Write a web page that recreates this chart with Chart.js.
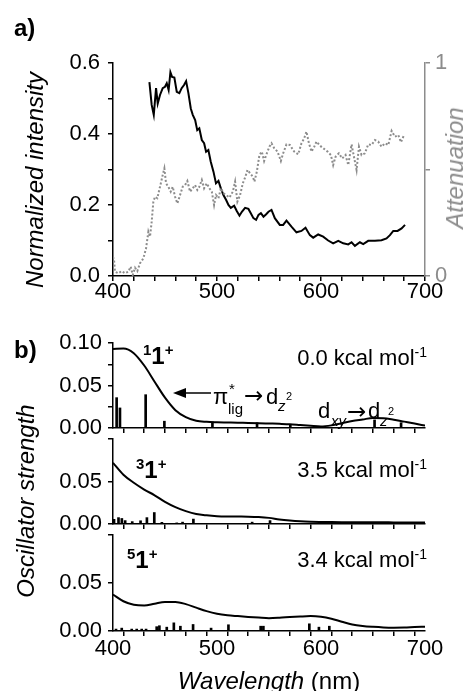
<!DOCTYPE html>
<html>
<head>
<script src="https://cdn.jsdelivr.net/npm/chart.js"></script>
<style>
  body { margin: 0; background: #fff; }
  #wrap { position: relative; width: 464px; height: 691px; overflow: hidden; font-family: 'Liberation Sans', Arial, sans-serif; }
  #wrap canvas { position: absolute; left: 0; }
  .t { position: absolute; line-height: 1; white-space: nowrap; color: #000; }
  .s { font-size: 15px; position: relative; top: -9px; }
  .s2 { font-size: 14px; position: relative; top: -8px; }
</style>
</head>
<body>
<div id="wrap">
  <canvas id="a" width="464" height="310" style="top:0"></canvas>
  <canvas id="b1" width="464" height="145" style="top:300px"></canvas>
  <canvas id="b2" width="464" height="121" style="top:420px"></canvas>
  <canvas id="b3" width="464" height="176" style="top:515px"></canvas>
  <svg style="position:absolute;left:170px;top:385px" width="45" height="16">
    <line x1="12" y1="8" x2="41" y2="8" stroke="#000" stroke-width="1.5"/>
    <polygon points="3,8 16,3 16,13" fill="#000"/>
  </svg>
</div>

<script>
// panel a: emission (left axis) and attenuation (right axis)
const wlEm = [435.0, 437.2, 439.2, 441.4, 443.0, 445.2, 447.8, 450.0, 451.7, 453.5,
              455.2, 456.8, 459.0, 461.3, 463.8, 466.0, 468.3, 470.3, 472.5, 474.8,
              476.7, 479.0, 481.0, 483.0, 485.4, 487.6, 489.5, 491.7, 494.0, 496.6,
              499.0, 501.4, 503.7, 506.2, 508.8, 511.0, 513.3, 516.5, 519.0, 521.6,
              523.9, 527.0, 530.2, 532.5, 535.0, 537.6, 539.9, 542.2, 544.7, 547.3,
              549.5, 552.4, 555.6, 560.4, 563.6, 566.8, 571.6, 576.4, 581.2, 585.1,
              589.3, 592.5, 597.3, 602.1, 606.9, 611.7, 616.6, 621.4, 626.2, 629.4,
              632.6, 637.4, 640.6, 645.4, 651.9, 658.2, 663.0, 666.3, 669.5, 673.6,
              677.5, 680.8];
const em = [0.546, 0.482, 0.454, 0.529, 0.486, 0.510, 0.529, 0.533, 0.543, 0.524,
            0.574, 0.561, 0.559, 0.519, 0.515, 0.529, 0.538, 0.549, 0.515, 0.472,
            0.454, 0.439, 0.411, 0.416, 0.383, 0.374, 0.350, 0.355, 0.322, 0.294,
            0.261, 0.268, 0.247, 0.228, 0.214, 0.200, 0.192, 0.198, 0.183, 0.170,
            0.181, 0.192, 0.189, 0.177, 0.163, 0.158, 0.172, 0.177, 0.167, 0.174,
            0.181, 0.186, 0.163, 0.144, 0.144, 0.156, 0.139, 0.123, 0.127, 0.136,
            0.115, 0.108, 0.117, 0.111, 0.100, 0.092, 0.099, 0.092, 0.089, 0.095,
            0.085, 0.095, 0.090, 0.099, 0.099, 0.101, 0.106, 0.115, 0.127, 0.127,
            0.134, 0.144];

const wlAtt = [400.0, 401.0, 401.9, 405.0, 408.4, 411.5, 414.7, 417.0, 419.0, 421.2,
               423.4, 426.0, 429.2, 431.8, 434.0, 435.6, 437.2, 438.8, 440.4, 442.6,
               445.2, 447.8, 449.4, 451.0, 453.2, 455.5, 457.4, 459.7, 461.9, 464.5,
               467.0, 469.3, 471.5, 474.1, 476.7, 478.9, 481.1, 483.0, 485.4, 487.6,
               490.2, 492.7, 495.0, 497.2, 499.1, 501.4, 503.7, 506.2, 508.8, 512.0,
               515.2, 517.4, 519.6, 522.2, 524.8, 527.0, 529.3, 531.9, 534.5, 536.0,
               538.3, 540.8, 543.1, 545.3, 547.9, 550.4, 552.4, 555.0, 558.2, 561.4,
               563.6, 566.8, 570.1, 574.2, 578.1, 581.2, 583.8, 586.0, 588.4, 590.9,
               593.5, 595.7, 599.0, 602.1, 606.3, 609.5, 611.7, 614.0, 617.2, 620.4,
               623.6, 626.2, 629.4, 632.0, 634.2, 636.5, 639.0, 642.2, 645.4, 648.6,
               651.9, 655.0, 658.2, 661.5, 664.7, 667.9, 671.1, 674.3, 676.9, 680.1];
const att = [0.090, 0.075, 0.020, 0.013, 0.023, 0.013, 0.020, 0.044, 0.005, 0.039,
             0.023, 0.060, 0.083, 0.130, 0.208, 0.185, 0.255, 0.349, 0.372, 0.365,
             0.419, 0.474, 0.505, 0.435, 0.419, 0.396, 0.419, 0.372, 0.341, 0.380,
             0.419, 0.427, 0.446, 0.396, 0.412, 0.427, 0.404, 0.419, 0.451, 0.412,
             0.435, 0.412, 0.396, 0.333, 0.380, 0.365, 0.412, 0.388, 0.380, 0.368,
             0.396, 0.443, 0.349, 0.380, 0.435, 0.462, 0.498, 0.482, 0.466, 0.443,
             0.490, 0.568, 0.584, 0.540, 0.576, 0.607, 0.623, 0.600, 0.584, 0.540,
             0.576, 0.618, 0.615, 0.584, 0.571, 0.623, 0.646, 0.678, 0.623, 0.584,
             0.607, 0.631, 0.612, 0.600, 0.584, 0.568, 0.521, 0.560, 0.576, 0.552,
             0.568, 0.521, 0.618, 0.552, 0.498, 0.607, 0.568, 0.576, 0.618, 0.615,
             0.638, 0.631, 0.607, 0.623, 0.615, 0.681, 0.654, 0.662, 0.628, 0.665];

// panel b: broadened spectra on a common grid, and the sticks
const wlCalc = [400, 410, 420, 430, 440, 450, 460, 470, 480, 490, 500, 510, 520, 530, 540, 550,
                560, 570, 580, 590, 600, 610, 620, 630, 640, 650, 660, 670, 680, 690, 700];
const f00 = [0.0930, 0.0935, 0.0880, 0.0735, 0.0545, 0.0357, 0.0210, 0.0128, 0.0085, 0.0073, 0.0068,
             0.0065, 0.0062, 0.0060, 0.0057, 0.0053, 0.0049, 0.0044, 0.0035, 0.0026, 0.0019,
             0.0031, 0.0055, 0.0082, 0.0100, 0.0118, 0.0116, 0.0098, 0.0075, 0.0052, 0.0028];
const f35 = [0.0720, 0.0580, 0.0485, 0.0405, 0.0338, 0.0260, 0.0198, 0.0152, 0.0118, 0.0102, 0.0092,
             0.0088, 0.0087, 0.0086, 0.0082, 0.0072, 0.0053, 0.0040, 0.0031, 0.0026, 0.0024,
             0.0023, 0.0022, 0.0021, 0.0021, 0.0020, 0.0020, 0.0019, 0.0019, 0.0018, 0.0018];
const f34 = [0.0380, 0.0310, 0.0274, 0.0266, 0.0285, 0.0302, 0.0302, 0.0280, 0.0243, 0.0207, 0.0180,
             0.0164, 0.0155, 0.0147, 0.0140, 0.0134, 0.0138, 0.0145, 0.0151, 0.0155, 0.0148,
             0.0128, 0.0097, 0.0068, 0.0052, 0.0043, 0.0037, 0.0035, 0.0036, 0.0041, 0.0045];

const s00Wl = [403.5, 406.7, 431.4, 449.4, 495.6, 538.5, 570.5, 651.5, 677.0];
const s00F  = [0.0357, 0.0236, 0.0392, 0.0080, 0.0070, 0.0062, 0.0043, 0.0095, 0.0062];
const s35Wl = [401.0, 405.3, 408.5, 411.7, 418.5, 426.5, 432.6, 439.7, 447.0, 461.3, 466.9, 477.3, 533.8, 551.0, 628.0];
const s35F  = [0.0055, 0.0075, 0.0065, 0.0040, 0.0028, 0.0038, 0.0075, 0.0135, 0.0020, 0.0013, 0.0022, 0.0058, 0.0022, 0.0040, 0.0020];
const s34Wl = [402.9, 408.4, 418.0, 422.8, 427.6, 431.8, 442.0, 444.6, 451.7, 458.5, 464.8, 477.0, 494.3, 511.0, 542.0, 544.6, 588.8, 598.0, 608.0];
const s34F  = [0.0020, 0.0030, 0.0020, 0.0020, 0.0020, 0.0020, 0.0045, 0.0055, 0.0040, 0.0085, 0.0050, 0.0068, 0.0030, 0.0065, 0.0050, 0.0050, 0.0075, 0.0040, 0.0050];

// tick labels
const xLabels = [400, 500, 600, 700];
const yLabelsA = [0, 0.2, 0.4, 0.6];
const yLabelsAtt = [0, 1];
const yLabelsTop = [0, 0.05, 0.1];
const yLabelsLow = [0, 0.05];

Chart.defaults.font.family = "'Liberation Sans', Arial, sans-serif";
Chart.defaults.color = '#000';

const pts = (xs, ys) => xs.map((x, i) => ({x: x, y: ys[i]}));
const tickFont = {size: 22, lineHeight: 1};
const black = {drawOnChartArea: false, tickLength: 5, color: '#000', lineWidth: 1.5};
const gray = '#8c8c8c';

new Chart(document.getElementById('a'), {
    type: 'line',
    data: {
        datasets: [{
            data: pts(wlAtt, att),
            yAxisID: 'y2',
            borderColor: gray,
            borderWidth: 2,
            borderDash: [2, 2],
            pointRadius: 0
        }, {
            data: pts(wlEm, em),
            yAxisID: 'y',
            borderColor: '#000',
            borderWidth: 2,
            pointRadius: 0
        }]
    },
    options: {
        responsive: false,
        animation: false,
        events: [],
        layout: {padding: {top: 63, left: 0, right: 0, bottom: 0}},
        plugins: {legend: {display: false}, tooltip: {enabled: false}},
        scales: {
            x: {
                type: 'linear', min: 400, max: 700, offset: false,
                ticks: {stepSize: 20, autoSkip: false, maxRotation: 0, padding: 0, font: tickFont,
                        callback: v => xLabels.includes(v) ? String(v) : ''},
                grid: black,
                border: {color: '#000', width: 1.5},
                afterFit: s => { s.height = 34; }
            },
            y: {
                position: 'left', min: 0, max: 0.6,
                ticks: {stepSize: 0.1, padding: 8, font: tickFont,
                        callback: v => { const r = Math.round(v * 10) / 10; return yLabelsA.includes(r) ? r.toFixed(1) : ''; }},
                grid: black,
                border: {color: '#000', width: 1.5},
                afterFit: s => { s.width = 113; }
            },
            y2: {
                position: 'right', min: 0, max: 1,
                ticks: {stepSize: 0.5, padding: 5, font: tickFont, color: gray,
                        callback: v => yLabelsAtt.includes(v) ? String(v) : ''},
                grid: {drawOnChartArea: false, tickLength: 5, color: gray, lineWidth: 1.5},
                border: {color: gray, width: 1.5},
                afterFit: s => { s.width = 39; }
            }
        }
    }
});

function panel(id, curve, stickWl, stickF, o) {
    return new Chart(document.getElementById(id), {
        type: 'line',
        data: {
            datasets: [{
                type: 'bar',
                data: pts(stickWl, stickF),
                backgroundColor: '#000',
                borderWidth: 0,
                barThickness: 2
            }, {
                data: pts(wlCalc, curve),
                borderColor: '#000',
                borderWidth: 2,
                pointRadius: 0,
                cubicInterpolationMode: 'monotone'
            }]
        },
        options: {
            responsive: false,
            animation: false,
            events: [],
            layout: {padding: {top: o.top, left: 0, right: 39, bottom: 0}},
            plugins: {legend: {display: false}, tooltip: {enabled: false}},
            scales: {
                x: {
                    type: 'linear', min: 400, max: 700, offset: false,
                    ticks: {stepSize: 20, autoSkip: false, maxRotation: 0, padding: 2, font: tickFont,
                            callback: v => (o.xl && xLabels.includes(v)) ? String(v) : ''},
                    grid: black,
                    border: {color: '#000', width: 1.5},
                    afterFit: s => { s.height = o.xh; }
                },
                y: {
                    min: 0, max: 0.1,
                    ticks: {stepSize: 0.025, padding: 6, font: tickFont,
                            callback: v => { const r = Math.round(v * 1000) / 1000; return o.yl.includes(r) ? r.toFixed(2) : ''; }},
                    grid: black,
                    border: {color: '#000', width: 1.5},
                    afterFit: s => { s.width = 113; }
                }
            }
        }
    });
}

panel('b1', f00, s00Wl, s00F, {top: 43, xh: 6, xl: false, yl: yLabelsTop});
panel('b2', f35, s35Wl, s35F, {top: 19, xh: 6, xl: false, yl: yLabelsLow});
panel('b3', f34, s34Wl, s34F, {top: 20, xh: 60, xl: true, yl: yLabelsLow});

// text
const wrap = document.getElementById('wrap');
function put(html, x, base, size, css) {
    const d = document.createElement('div');
    d.className = 't';
    d.innerHTML = html;
    d.style.cssText = 'left:' + x + 'px;top:' + (base - 0.85 * size) + 'px;font-size:' + size + 'px;' + (css || '');
    wrap.appendChild(d);
}
function rot(html, cx, cy, size, color) {
    const d = document.createElement('div');
    d.className = 't';
    d.innerHTML = html;
    d.style.cssText = 'left:' + cx + 'px;top:' + cy + 'px;font-size:' + size + 'px;color:' + (color || '#000') +
        ';transform:translate(-50%,-50%) rotate(-90deg);';
    wrap.appendChild(d);
}
const arrowFont = "font-family:'DejaVu Sans',sans-serif;";

put('<b>a)</b>', 14, 36, 24);
put('<b>b)</b>', 14, 358, 24);

rot('<i>Normalized intensity</i>', 35, 180, 24);
rot('<i>Attenuation</i>', 455, 168, 24, gray);
rot('<i>Oscillator strength</i>', 26, 501, 24);
put('<i>Wavelength</i> (nm)', 269, 689, 24, 'transform:translateX(-50%);');

put('<b><span class="s">1</span>1<span class="s">+</span></b>', 143, 364, 24);
put('<b><span class="s">3</span>1<span class="s">+</span></b>', 136, 478, 24);
put('<b><span class="s">5</span>1<span class="s">+</span></b>', 127, 568, 24);

put('0.0 kcal mol<span class="s2">-1</span>', 0, 366, 22, 'left:auto;right:37px;');
put('3.5 kcal mol<span class="s2">-1</span>', 0, 478, 22, 'left:auto;right:37px;');
put('3.4 kcal mol<span class="s2">-1</span>', 0, 568, 22, 'left:auto;right:37px;');

// pi*_lig -> d_z2
put('\u03c0', 213, 405, 22);
put('*', 229, 394, 15);
put('lig', 228, 414, 15);
put('\u2192', 244, 404, 23, arrowFont);
put('d', 266, 405, 22);
put('<i>z</i>', 278, 411, 15);
put('2', 286, 400, 11);

// d_xy -> d_z2
put('d', 318, 419, 22);
put('<i>xy</i>', 331, 426, 15);
put('\u2192', 347, 420, 23, arrowFont);
put('d', 368, 419, 22);
put('<i>z</i>', 380, 426, 15);
put('2', 388, 415, 11);
</script>
</body>
</html>
